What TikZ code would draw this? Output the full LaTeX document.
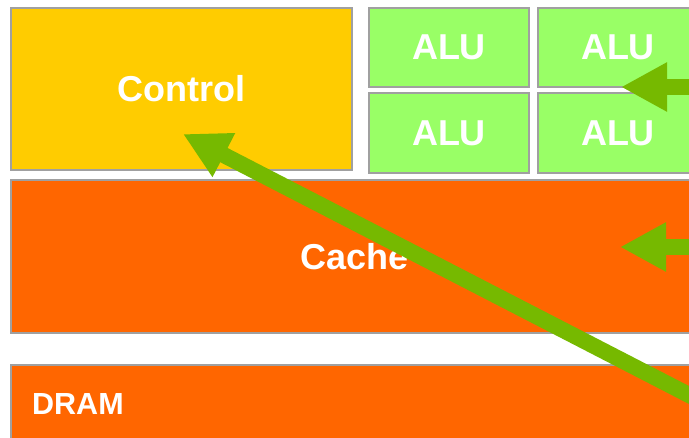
\documentclass[tikz,border=0pt]{standalone}
\usepackage{fontspec}
\setmainfont{Liberation Sans}
\usepackage{xcolor}
\usetikzlibrary{arrows.meta}
\definecolor{ctrlyellow}{HTML}{FFCC00}
\definecolor{alugreen}{HTML}{99FF66}
\definecolor{memorange}{HTML}{FF6600}
\definecolor{flowgreen}{HTML}{76B900}
\definecolor{edgegray}{HTML}{A0A0A0}

\begin{document}
\begin{tikzpicture}[x=1pt,y=-1pt,
  unit/.style={draw=edgegray,line width=1.5pt,inner sep=0pt,text=white,font=\bfseries\fontsize{36}{36}\selectfont},
  flow/.style={flowgreen,line width=16pt,-{Triangle[length=46pt,width=46pt]}}]
\path[use as bounding box,clip](0,0)rectangle(689,438);
\fill[white](0,0)rectangle(689,438);
% blocks
\node[unit,fill=ctrlyellow,minimum width=341pt,minimum height=162pt](control)at(181.5,89){Control};
\node[unit,fill=alugreen,minimum width=160pt,minimum height=79pt](alu11)at(449,47.5){ALU};
\node[unit,fill=alugreen,minimum width=160pt,minimum height=79pt](alu12)at(618,47.5){ALU};
\node[unit,fill=alugreen,minimum width=160pt,minimum height=80pt](alu21)at(449,133){ALU};
\node[unit,fill=alugreen,minimum width=160pt,minimum height=80pt](alu22)at(618,133){ALU};
\node[unit,fill=memorange,minimum width=688pt,minimum height=153pt](cache)at(355,256.5){Cache};
\node[unit,fill=memorange,minimum width=688pt,minimum height=80pt](dram)at(355,405){};
\node[text=white,font=\bfseries\fontsize{30.5}{30.5}\selectfont,anchor=west,inner sep=0pt](dramlabel)at(32,404){DRAM};
% arrows
\coordinate(aluin)at(710,87);
\coordinate(alutip)at(621,87);
\coordinate(cachein)at(710,247);
\coordinate(cachetip)at(620,247);
\coordinate(dramout)at(720,411);
\coordinate(ctrltip)at(183,134);
\draw[flow](aluin)--(alutip);
\draw[flow](cachein)--(cachetip);
\draw[flow](dramout)--(ctrltip);
\end{tikzpicture}
\end{document}
